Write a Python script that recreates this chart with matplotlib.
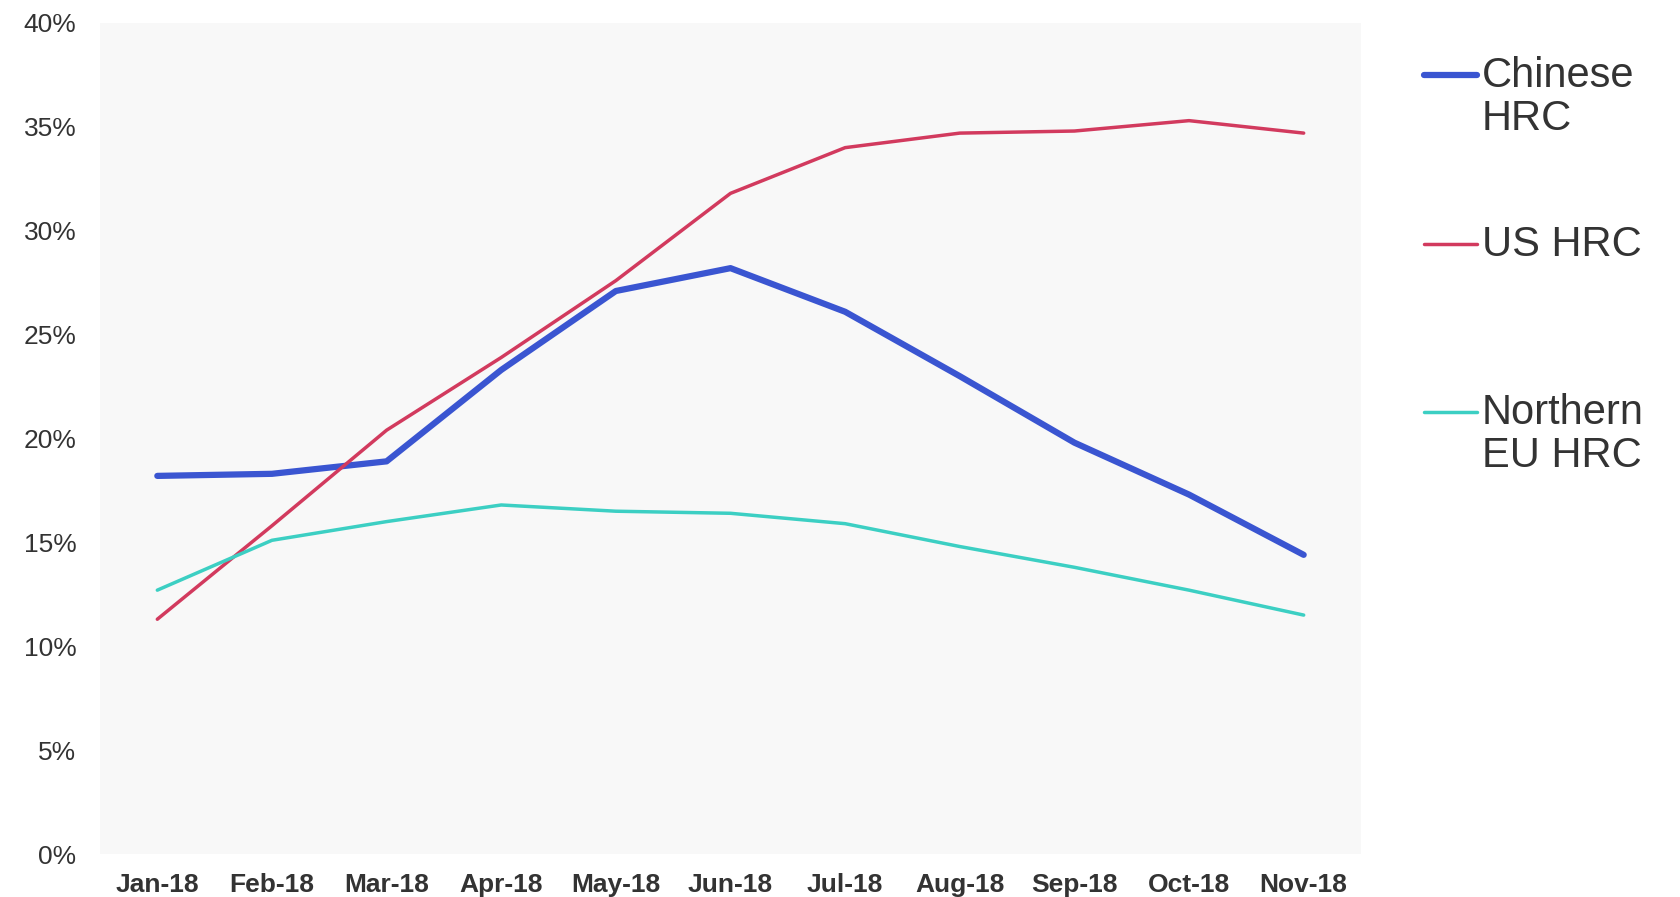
import matplotlib
matplotlib.use("Agg")
import matplotlib.pyplot as plt
from matplotlib.lines import Line2D
from matplotlib import font_manager

# Monthly year-on-year change, percent
months = ["Jan-18", "Feb-18", "Mar-18", "Apr-18", "May-18", "Jun-18",
          "Jul-18", "Aug-18", "Sep-18", "Oct-18", "Nov-18"]
chinese_hrc = [18.2, 18.3, 18.9, 23.3, 27.1, 28.2, 26.1, 23.0, 19.8, 17.3, 14.4]
us_hrc = [11.3, 15.8, 20.4, 23.9, 27.6, 31.8, 34.0, 34.7, 34.8, 35.3, 34.7]
north_eu_hrc = [12.7, 15.1, 16.0, 16.8, 16.5, 16.4, 15.9, 14.8, 13.8, 12.7, 11.5]
y_ticks = [0, 5, 10, 15, 20, 25, 30, 35, 40]

series = [
    ("Chinese\nHRC", chinese_hrc, "#3a55d1", 4.5),
    ("US HRC", us_hrc, "#d23a5e", 2.5),
    ("Northern\nEU HRC", north_eu_hrc, "#3ccfc3", 2.5),
]

installed = {f.name for f in font_manager.fontManager.ttflist}
sans = "Liberation Sans" if "Liberation Sans" in installed else "DejaVu Sans"
narrow = "Liberation Sans Narrow" if "Liberation Sans Narrow" in installed else sans
text_color = "#333333"

W, H = 1680, 897
fig = plt.figure(figsize=(W / 100, H / 100), dpi=100)
fig.patch.set_facecolor("white")
ax = fig.add_axes([100 / W, 1 - 854 / H, (1361 - 100) / W, (854 - 23) / H])
ax.set_facecolor("#f8f8f8")

x = list(range(len(months)))
for label, vals, color, lw in series:
    ax.plot(x, vals, color=color, linewidth=lw, solid_capstyle="round",
            solid_joinstyle="round")

ax.set_xlim(-0.5, len(months) - 0.5)
ax.set_ylim(0, 40)
ax.set_xticks(x)
ax.set_xticklabels(months, fontfamily=narrow, fontweight="bold",
                   fontsize=19, color=text_color)
ax.set_yticks(y_ticks)
ax.set_yticklabels([f"{v}%" for v in y_ticks], fontfamily=sans,
                   fontsize=19, color=text_color)
ax.tick_params(axis="x", length=0, pad=14)
ax.tick_params(axis="y", length=0, pad=17)
for s in ax.spines.values():
    s.set_visible(False)

# Legend: handle beside the first line of each label
legend_rows = [75, 244, 412]
for (label, vals, color, lw), yrow in zip(series, legend_rows):
    yf = 1 - yrow / H
    fig.add_artist(Line2D([1424 / W, 1477 / W], [yf, yf], color=color,
                          linewidth=lw, solid_capstyle="round",
                          transform=fig.transFigure))
    lines = label.split("\n")
    for i, line in enumerate(lines):
        base = yrow + 12 + i * 43
        fig.text(1482 / W, 1 - base / H, line, fontfamily=sans, fontsize=30,
                 color=text_color, va="baseline", ha="left")

fig.savefig("out.png", dpi=100)
